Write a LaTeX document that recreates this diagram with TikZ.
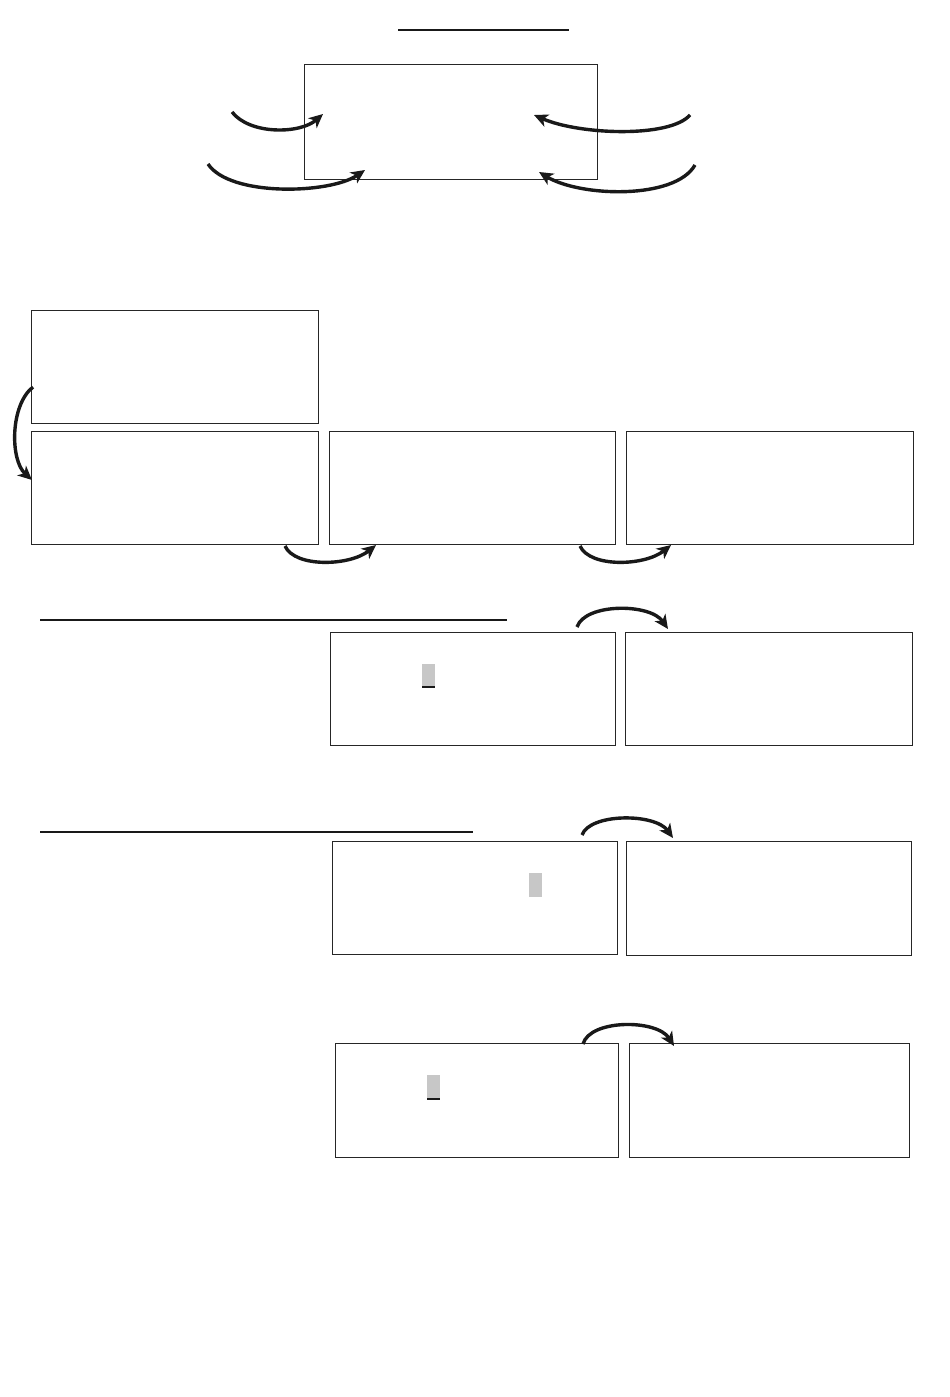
\documentclass[tikz,border=0pt]{standalone}
\usetikzlibrary{arrows.meta}
\begin{document}
\begin{tikzpicture}[x=1pt,y=-1pt,
  box/.style={draw=black!85, line width=0.9pt, inner sep=0pt, outer sep=0pt, anchor=north west, minimum width=#1},
  box/.default=287pt,
  rule/.style={line width=2.4pt, black!90},
  arr/.style={line width=3.4pt, black!90, -{Stealth[length=14pt,width=13pt,inset=4pt]}},
  shade/.style={fill=black!22, draw=none, inner sep=0pt, outer sep=0pt, anchor=north west, minimum width=13pt, minimum height=23pt}
]
\useasboundingbox (0,0) rectangle (950,1397);
\fill[white] (0,0) rectangle (950,1397);

% top
\draw[rule] (398,30) -- (569,30);
\node[box=293pt, minimum height=115pt] (T) at (304,64) {};
\coordinate (t1) at (232,112); \coordinate (t1e) at (323,114);
\coordinate (t2) at (208,164); \coordinate (t2e) at (365,170);
\coordinate (t3) at (690,115); \coordinate (t3e) at (534,115);
\coordinate (t4) at (695,165); \coordinate (t4e) at (539,172);
\draw[arr] (t1) .. controls (250,135) and (300,134) .. (t1e);
\draw[arr] (t2) .. controls (230,197) and (330,194) .. (t2e);
\draw[arr] (t3) .. controls (670,138) and (580,135) .. (t3e);
\draw[arr] (t4) .. controls (675,200) and (580,197) .. (t4e);

% row 2
\node[box, minimum height=113pt] (A) at (31,310) {};
\node[box, minimum height=113pt] (B) at (31,431) {};
\node[box=286pt, minimum height=113pt] (C) at (329,431) {};
\node[box, minimum height=113pt] (D) at (626,431) {};
\coordinate (ab1) at (33,387); \coordinate (ab2) at (32,480);
\draw[arr] (ab1) .. controls (10,405) and (10,460) .. (ab2);
\coordinate (bc1) at (285,546); \coordinate (bc2) at (376,545);
\draw[arr] (bc1) .. controls (295,568) and (350,566) .. (bc2);
\coordinate (cd1) at (580,546); \coordinate (cd2) at (671,545);
\draw[arr] (cd1) .. controls (590,568) and (645,566) .. (cd2);

% row 3
\draw[rule, line width=1.6pt] (40,620) -- (507,620);
\node[box=285pt, minimum height=113pt] (E) at (330,632) {};
\node[box, minimum height=113pt] (F) at (625,632) {};
\node[shade] (e1) at (422,664) {};
\draw[line width=2pt, black!90] (e1.south west) -- (e1.south east);
\coordinate (ef1) at (577,627); \coordinate (ef2) at (668,629);
\draw[arr] (ef1) .. controls (585,603) and (650,603) .. (ef2);

% row 4
\draw[rule, line width=1.6pt] (40,832) -- (473,832);
\node[box=285pt, minimum height=113pt] (G) at (332,841) {};
\node[box=285pt, minimum height=114pt] (H) at (626,841) {};
\node[shade, minimum height=24pt] (g1) at (529,873) {};
\coordinate (gh1) at (582,835); \coordinate (gh2) at (673,838);
\draw[arr] (gh1) .. controls (590,813) and (655,813) .. (gh2);

% row 5
\node[box=283pt, minimum height=114pt] (I) at (335,1043) {};
\node[box=280pt, minimum height=114pt] (J) at (629,1043) {};
\node[shade, minimum height=24pt] (i1) at (427,1075) {};
\draw[line width=2pt, black!90] (i1.south west) -- (i1.south east);
\coordinate (ij1) at (583,1044); \coordinate (ij2) at (674,1046);
\draw[arr] (ij1) .. controls (590,1019) and (657,1019) .. (ij2);
\end{tikzpicture}
\end{document}
